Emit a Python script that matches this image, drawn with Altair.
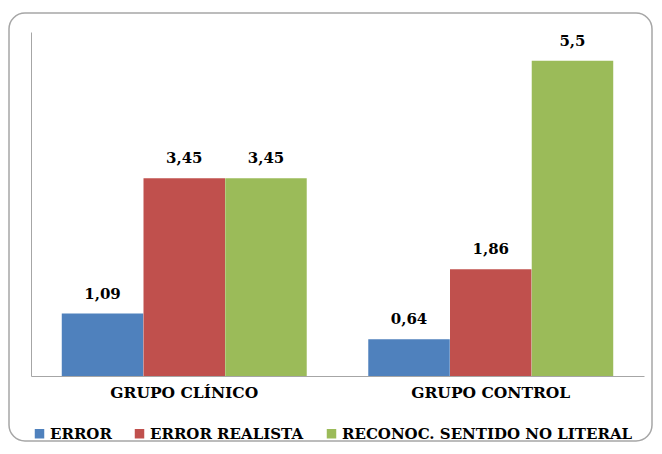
import altair as alt
import pandas as pd

groups = ["GRUPO CLÍNICO", "GRUPO CONTROL"]
series = ["ERROR", "ERROR REALISTA", "RECONOC. SENTIDO NO LITERAL"]
error_vals = [1.09, 0.64]
realista_vals = [3.45, 1.86]
reconoc_vals = [3.45, 5.5]
colors = ["#4F81BD", "#C0504D", "#9BBB59"]

rows = []
for s, vals in zip(series, [error_vals, realista_vals, reconoc_vals]):
    for g, v in zip(groups, vals):
        rows.append({"grupo": g, "serie": s, "value": v})
df = pd.DataFrame(rows)

FONT = "DejaVu Serif"

base = alt.Chart(df).encode(
    x=alt.X("grupo:N", sort=groups, title=None,
            scale=alt.Scale(paddingInner=0.2, paddingOuter=0.1),
            axis=alt.Axis(labelAngle=0, ticks=False, domainColor="#A6A6A6",
                          labelFont=FONT, labelFontWeight="bold", labelFontSize=15.5,
                          labelColor="#000000", labelPadding=9)),
    xOffset=alt.XOffset("serie:N", sort=series),
    y=alt.Y("value:Q", title=None, scale=alt.Scale(domain=[0, 6], nice=False),
            axis=alt.Axis(labels=False, ticks=False, grid=False, domainColor="#A6A6A6")),
)

bars = base.mark_bar(size=81.5).encode(
    color=alt.Color("serie:N", sort=series,
                    scale=alt.Scale(domain=series, range=colors),
                    legend=alt.Legend(orient="none", legendX=1, legendY=394,
                                      direction="horizontal", title=None,
                                      symbolType="square", symbolSize=90,
                                      symbolStrokeWidth=0, labelFont=FONT,
                                      labelFontWeight="bold", labelFontSize=15,
                                      labelColor="#000000", labelOffset=3,
                                      labelLimit=500, columnPadding=20))
)

labels = base.transform_calculate(
    label="replace(toString(datum.value), '.', ',')"
).mark_text(baseline="bottom", dy=-12, font=FONT, fontWeight="bold",
            fontSize=15, color="#000000").encode(text="label:N")

frame = alt.Chart(pd.DataFrame({"a": [0]})).mark_rect(
    fill="transparent", stroke="#A6A6A6", strokeWidth=1.5, cornerRadius=16
).encode(x=alt.value(-22), x2=alt.value(621), y=alt.value(-19), y2=alt.value(409))

chart = alt.layer(frame, bars, labels).properties(
    width=613, height=344,
    autosize=alt.AutoSizeParams(type="none"),
    padding={"left": 23, "top": 24, "right": 10, "bottom": 67},
).configure_view(stroke=None)

chart.save("out.html", embed_options={"renderer": "svg", "actions": False})
